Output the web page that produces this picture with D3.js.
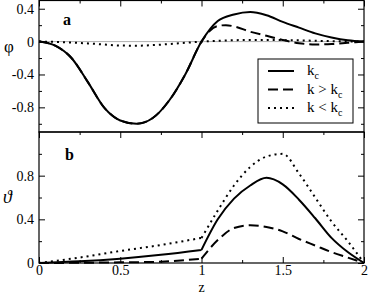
<!DOCTYPE html>
<html>
<head>
<meta charset="utf-8">
<script src="https://cdn.jsdelivr.net/npm/d3@7"></script>
<style>
  body { margin: 0; background: #fff; }
  svg text { font-family: "Liberation Serif", "DejaVu Serif", serif; fill: #000; }
  .axis path { display: none; }
  .axis line { stroke: #000; stroke-width: 1; }
</style>
</head>
<body>
<div id="chart"></div>
<script>
// panel a : phi(z)
var zKc = [0, 0.1, 0.2, 0.3, 0.4, 0.5, 0.6, 0.7, 0.8, 0.9, 1.0, 1.1, 1.2, 1.3, 1.4, 1.5, 1.6, 1.7, 1.8, 1.9, 2.0];
var phiKc = [0, -0.05, -0.2, -0.49, -0.8, -0.96, -1.0, -0.93, -0.72, -0.4, 0, 0.25, 0.33, 0.36, 0.32, 0.24, 0.17, 0.1, 0.05, 0.015, 0];

var zHi = [0, 0.1, 0.2, 0.3, 0.4, 0.5, 0.6, 0.7, 0.8, 0.9, 1.0, 1.05, 1.1, 1.15, 1.2, 1.3, 1.4, 1.5, 1.6, 1.7, 1.8, 1.9, 2.0];
var phiHi = [0, -0.05, -0.2, -0.49, -0.8, -0.96, -1.0, -0.93, -0.72, -0.4, 0, 0.13, 0.19, 0.2, 0.185, 0.12, 0.07, 0.02, -0.02, -0.035, -0.03, -0.015, 0];

var zLo = [0, 0.1, 0.2, 0.3, 0.4, 0.5, 0.6, 0.7, 0.8, 0.9, 1.0, 1.1, 1.2, 1.3, 1.4, 1.5, 1.6, 1.7, 1.8, 1.9, 2.0];
var phiLo = [0, -0.003, -0.012, -0.022, -0.035, -0.048, -0.05, -0.043, -0.03, -0.015, 0, 0.01, 0.017, 0.02, 0.02, 0.018, 0.015, 0.01, 0.006, 0.002, 0];

// panel b : theta(z)
var zB = [0, 0.25, 0.5, 0.75, 1.0, 1.1, 1.2, 1.3, 1.4, 1.5, 1.6, 1.7, 1.8, 1.9, 2.0];
var thKc = [0, 0.015, 0.04, 0.075, 0.12, 0.4, 0.59, 0.71, 0.78, 0.72, 0.58, 0.41, 0.23, 0.1, 0];
var thHi = [0, 0.002, 0.006, 0.012, 0.04, 0.21, 0.32, 0.345, 0.33, 0.29, 0.22, 0.16, 0.1, 0.05, 0];
var thLo = [0, 0.05, 0.11, 0.165, 0.23, 0.48, 0.71, 0.88, 0.975, 1.0, 0.82, 0.6, 0.38, 0.2, 0];

var xTicks = [0, 0.5, 1, 1.5, 2];
var yTicksA = [0.4, 0, -0.4, -0.8];
var yTicksB = [0, 0.4, 0.8];
var legendLabels = [["k", "c"], ["k > k", "c"], ["k < k", "c"]];
var dashes = [null, "10,5", "2,4"];

var W = 369, H = 295;
var svg = d3.select("#chart").append("svg")
    .attr("width", W)
    .attr("height", H);

var x = d3.scaleLinear().domain([0, 2]).range([39, 364]);
var yA = d3.scaleLinear().domain([-1.1, 0.5]).range([132, 0.5]);
var yB = d3.scaleLinear().domain([0, 1.2]).range([263, 132]);

var fmt = function(d){ return String(d); };

// gray zero line in panel a
svg.append("line")
    .attr("x1", x(0)).attr("x2", x(2))
    .attr("y1", yA(0)).attr("y2", yA(0))
    .attr("stroke", "#b0b0b0").attr("stroke-width", 1);

function zip(zs, vs){ return zs.map((z, i) => ({z: z, v: vs[i]})); }

var lineA = d3.line().x(d => x(d.z)).y(d => yA(d.v)).curve(d3.curveMonotoneX);
var lineB = d3.line().x(d => x(d.z)).y(d => yB(d.v)).curve(d3.curveMonotoneX);

// panel b has a kink at z = 1, draw both halves separately in one path
function kinked(data){
    var left = data.filter(d => d.z <= 1);
    var right = data.filter(d => d.z >= 1);
    return lineB(left) + lineB(right);
}

var seriesA = [zip(zKc, phiKc), zip(zHi, phiHi), zip(zLo, phiLo)];
var seriesB = [zip(zB, thKc), zip(zB, thHi), zip(zB, thLo)];

svg.selectAll("path.a")
    .data(seriesA)
    .enter().append("path")
    .attr("class", "a")
    .attr("d", d => lineA(d))
    .attr("fill", "none")
    .attr("stroke", "#000")
    .attr("stroke-width", 2)
    .attr("stroke-dasharray", (d, i) => dashes[i]);

svg.selectAll("path.b")
    .data(seriesB)
    .enter().append("path")
    .attr("class", "b")
    .attr("d", d => kinked(d))
    .attr("fill", "none")
    .attr("stroke", "#000")
    .attr("stroke-width", 2)
    .attr("stroke-dasharray", (d, i) => dashes[i]);

// axes
var minorX = d3.range(0.25, 2, 0.5);
function addAxis(axis, tx, ty){
    svg.append("g").attr("class", "axis")
        .attr("transform", "translate(" + tx + "," + ty + ")")
        .call(axis)
        .selectAll("text").style("font-size", "14px");
}

// panel a
addAxis(d3.axisLeft(yA).tickValues(yTicksA).tickSize(-6).tickPadding(5).tickFormat(fmt), x(0), 0);
addAxis(d3.axisLeft(yA).tickValues([0.2, -0.2, -0.6, -1.0]).tickSize(-3).tickFormat(""), x(0), 0);
addAxis(d3.axisRight(yA).tickValues(yTicksA).tickSize(-6).tickFormat(""), x(2), 0);
addAxis(d3.axisRight(yA).tickValues([0.2, -0.2, -0.6, -1.0]).tickSize(-3).tickFormat(""), x(2), 0);
addAxis(d3.axisTop(x).tickValues(xTicks).tickSize(-6).tickFormat(""), 0, 0.5);
addAxis(d3.axisTop(x).tickValues(minorX).tickSize(-3).tickFormat(""), 0, 0.5);

// panel b
addAxis(d3.axisLeft(yB).tickValues(yTicksB).tickSize(-6).tickPadding(5).tickFormat(fmt), x(0), 0);
addAxis(d3.axisLeft(yB).tickValues([0.2, 0.6, 1.0]).tickSize(-3).tickFormat(""), x(0), 0);
addAxis(d3.axisRight(yB).tickValues(yTicksB).tickSize(-6).tickFormat(""), x(2), 0);
addAxis(d3.axisRight(yB).tickValues([0.2, 0.6, 1.0]).tickSize(-3).tickFormat(""), x(2), 0);
addAxis(d3.axisTop(x).tickValues(xTicks).tickSize(-6).tickFormat(""), 0, 132);
addAxis(d3.axisTop(x).tickValues(minorX).tickSize(-3).tickFormat(""), 0, 132);
addAxis(d3.axisBottom(x).tickValues(xTicks).tickSize(-6).tickPadding(2).tickFormat(fmt), 0, 263);
addAxis(d3.axisBottom(x).tickValues(minorX).tickSize(-3).tickFormat(""), 0, 263);

// frames
[[0.5, 132], [132, 263]].forEach(function(p){
    svg.append("rect")
        .attr("x", x(0)).attr("y", p[0])
        .attr("width", x(2) - x(0)).attr("height", p[1] - p[0])
        .attr("fill", "none").attr("stroke", "#000").attr("stroke-width", 1.2);
});

// labels
svg.append("text").attr("x", 4).attr("y", 52).style("font-size", "17px").text("φ");
svg.append("text").attr("x", 3).attr("y", 203).style("font-size", "18px").style("font-style", "italic").text("ϑ");
svg.append("text").attr("x", 63).attr("y", 25).style("font-size", "16px").style("font-weight", "bold").text("a");
svg.append("text").attr("x", 65).attr("y", 160).style("font-size", "16px").style("font-weight", "bold").text("b");
svg.append("text").attr("x", x(1)).attr("y", 292).attr("text-anchor", "middle").style("font-size", "14px").text("z");

// legend
var lg = svg.append("g");
lg.append("rect")
    .attr("x", 258).attr("y", 59).attr("width", 95).attr("height", 64)
    .attr("fill", "#fff").attr("stroke", "#000").attr("stroke-width", 1);

legendLabels.forEach(function(lab, i){
    var yy = 71 + i * 18.5;
    lg.append("line")
        .attr("x1", 268).attr("x2", 294)
        .attr("y1", yy).attr("y2", yy)
        .attr("stroke", "#000").attr("stroke-width", 2)
        .attr("stroke-dasharray", dashes[i]);
    var t = lg.append("text").attr("x", 307).attr("y", yy + 4).style("font-size", "15px");
    t.append("tspan").text(lab[0]);
    t.append("tspan").attr("dy", 4).style("font-size", "10px").text(lab[1]);
});
</script>
</body>
</html>
